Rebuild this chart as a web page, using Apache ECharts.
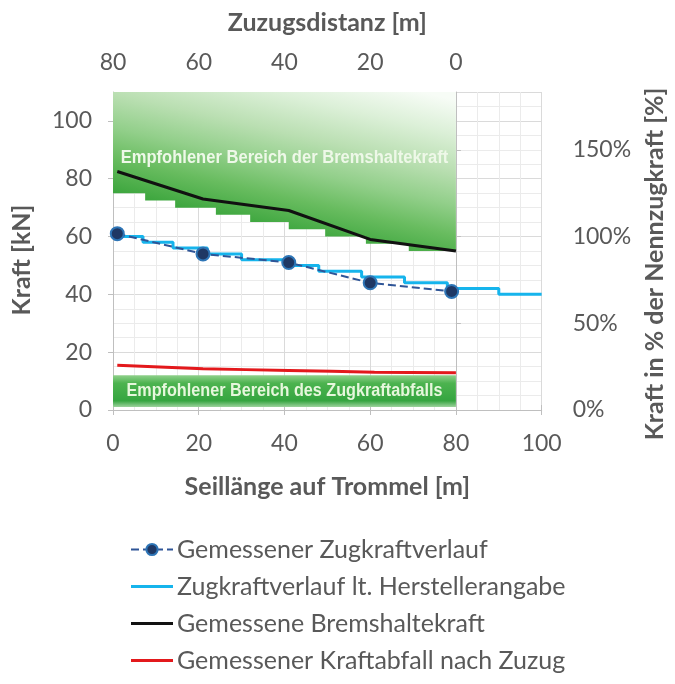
<!DOCTYPE html>
<html><head><meta charset="utf-8">
<script src="https://cdn.jsdelivr.net/npm/echarts@6/dist/echarts.min.js"></script>
<style>html,body{margin:0;padding:0;background:#fff}#c{width:675px;height:684px}</style>
</head><body><div id="c"></div>
<script>
// ---- data ----
const measuredX = [1, 21, 41, 60, 79];
const measuredForce = [61, 54, 51, 44, 41];
const makerX = [0, 7, 14, 22, 30, 40, 48, 58, 68, 78, 90, 100];
const makerForce = [60, 58, 56, 54, 52, 50, 48, 46, 44, 42, 40, 40];
const brakeX = [1, 21, 41, 60, 80];
const brakeForce = [82.5, 73, 69, 59, 55];
const dropX = [1, 21, 41, 61, 80];
const dropForce = [15.5, 14.3, 13.7, 13.1, 12.9];
const brakeZoneX = [0, 7.5, 14.5, 24, 32, 41, 49.5, 59, 69, 80];
const brakeZoneLow = [75, 72.5, 70, 67.5, 65, 62.5, 60, 57.5, 55];
const brakeZoneTop = 110;
const dropZoneX = [0, 80];
const dropZoneRange = [1, 12];
const nominalForce = 60; // 100 %
const seriesNames = ['Gemessener Zugkraftverlauf', 'Zugkraftverlauf lt. Herstellerangabe', 'Gemessene Bremshaltekraft', 'Gemessener Kraftabfall nach Zuzug'];
const zoneTexts = ['Empfohlener Bereich der Bremshaltekraft', 'Empfohlener Bereich des Zugkraftabfalls'];

const FONT = "Lato, 'Open Sans', sans-serif";
const ZFONT = "'Liberation Sans', Arial, sans-serif";
const GRAY = '#595959';
const COLORS = { measured: '#2F5597', maker: '#16b4ec', brake: '#111111', drop: '#e3191c' };

const pairs = (xs, ys) => xs.map((x, i) => [x, ys[i]]);

function renderBrakeZone(params, api) {
  const pts = [];
  pts.push(api.coord([brakeZoneX[0], brakeZoneTop]));
  pts.push(api.coord([brakeZoneX[brakeZoneX.length - 1], brakeZoneTop]));
  for (let i = brakeZoneLow.length - 1; i >= 0; i--) {
    pts.push(api.coord([brakeZoneX[i + 1], brakeZoneLow[i]]));
    pts.push(api.coord([brakeZoneX[i], brakeZoneLow[i]]));
  }
  const g0 = api.coord([1, 75]);
  const g1 = api.coord([9.6, 131]);
  const c = api.coord([(brakeZoneX[0] + brakeZoneX[brakeZoneX.length - 1]) / 2, 87.2]);
  return {
    type: 'group',
    children: [
      { type: 'polygon', shape: { points: pts },
        style: { fill: new echarts.graphic.LinearGradient(g0[0], g0[1], g1[0], g1[1], [
          { offset: 0, color: '#3da63e' },
          { offset: 0.2, color: '#68bc5f' },
          { offset: 0.38, color: '#92cf8a' },
          { offset: 0.58, color: '#badfb2' },
          { offset: 0.8, color: '#dcf0d8' },
          { offset: 1, color: '#f7fcf6' }], true) } },
      { type: 'text', x: c[0], y: c[1], scaleX: 0.92,
        style: { text: zoneTexts[0], fill: '#eef8e8', font: 'bold 18px ' + ZFONT,
          align: 'center', verticalAlign: 'middle' } }
    ]
  };
}

function renderDropZone(params, api) {
  const p0 = api.coord([dropZoneX[0], dropZoneRange[1]]);
  const p1 = api.coord([dropZoneX[1], dropZoneRange[0]]);
  const c = api.coord([(dropZoneX[0] + dropZoneX[1]) / 2, (dropZoneRange[0] + dropZoneRange[1]) / 2]);
  return {
    type: 'group',
    children: [
      { type: 'rect', shape: { x: p0[0], y: p0[1], width: p1[0] - p0[0], height: p1[1] - p0[1] },
        style: { fill: new echarts.graphic.LinearGradient(0, 0, 0, 1, [
          { offset: 0, color: '#8fd08a' },
          { offset: 0.25, color: '#4cb34f' },
          { offset: 0.8, color: '#35a540' },
          { offset: 1, color: '#9fd39f' }]) } },
      { type: 'text', x: c[0], y: c[1], scaleX: 0.9,
        style: { text: zoneTexts[1], fill: '#e6f7dc', font: 'bold 18px ' + ZFONT,
          align: 'center', verticalAlign: 'middle' } }
    ]
  };
}

const chart = echarts.init(document.getElementById('c'), null, { renderer: 'canvas' });
const axisLabel = { fontSize: 23, color: GRAY, fontFamily: FONT };
const nameStyle = { fontSize: 25, fontWeight: 'bold', color: GRAY, fontFamily: FONT };
const axisLine = { show: true, lineStyle: { color: '#bfbfbf', width: 1 } };
const axisTick = { show: true, length: 5, lineStyle: { color: '#bfbfbf' } };
const lineIcon = 'path://M0,0H40V3H0Z';

chart.setOption({
  backgroundColor: '#ffffff',
  animation: false,
  grid: { left: 113, right: 125, top: 92, bottom: 274, containLabel: false },
  legend: {
    orient: 'vertical', left: 125, top: 532, itemGap: 12, itemWidth: 42, itemHeight: 14,
    data: [
      { name: seriesNames[0] },
      { name: seriesNames[1], icon: lineIcon, itemStyle: { color: COLORS.maker } },
      { name: seriesNames[2], icon: lineIcon, itemStyle: { color: COLORS.brake } },
      { name: seriesNames[3], icon: lineIcon, itemStyle: { color: COLORS.drop } }
    ],
    textStyle: { fontSize: 25, color: GRAY, fontFamily: FONT, padding: [0, 0, 0, -1] }
  },
  xAxis: [
    { type: 'value', position: 'bottom', min: 0, max: 100, interval: 20,
      axisLine, axisTick, axisLabel: Object.assign({ margin: 22 }, axisLabel),
      splitLine: { show: true, lineStyle: { color: '#dadada' } },
      minorTick: { show: false, splitNumber: 4 },
      minorSplitLine: { show: true, lineStyle: { color: '#ebebeb' } },
      name: 'Seillänge auf Trommel [m]', nameLocation: 'middle', nameGap: 64, nameTextStyle: nameStyle },
    { type: 'value', position: 'top', min: -20, max: 80, interval: 20, inverse: true,
      axisLine, axisTick: { show: true, length: 5, lineStyle: { color: '#bfbfbf' } },
      axisLabel: Object.assign({ margin: 18, formatter: v => (v < 0 ? '' : String(v)) }, axisLabel),
      splitLine: { show: false },
      name: 'Zuzugsdistanz [m]', nameLocation: 'middle', nameGap: 57, nameTextStyle: nameStyle }
  ],
  yAxis: [
    { type: 'value', position: 'left', min: 0, max: 110, interval: 20,
      axisLine, axisTick, axisLabel: Object.assign({ margin: 21, showMaxLabel: false }, axisLabel),
      splitLine: { show: true, lineStyle: { color: '#dadada' } },
      minorTick: { show: false, splitNumber: 4 },
      minorSplitLine: { show: true, lineStyle: { color: '#ebebeb' } },
      name: 'Kraft [kN]', nameLocation: 'middle', nameGap: 79, nameRotate: 90,
      nameTextStyle: Object.assign({ padding: [0, 18, 0, 0] }, nameStyle) },
    { type: 'value', position: 'right', min: 0, max: 110 / nominalForce * 100, interval: 50,
      axisLine, axisTick, axisLabel: Object.assign({ margin: 31, showMaxLabel: false, formatter: v => v + '%' }, axisLabel),
      splitLine: { show: false },
      name: 'Kraft in % der Nennzugkraft [%]', nameLocation: 'middle', nameGap: 100, nameRotate: 90,
      nameTextStyle: Object.assign({ padding: [0, 26, 0, 0] }, nameStyle) }
  ],
  series: [
    { type: 'custom', name: 'zone1', xAxisIndex: 0, yAxisIndex: 0, z: 1, silent: true,
      renderItem: renderBrakeZone, data: [[brakeZoneX[0], brakeZoneTop]] },
    { type: 'custom', name: 'zone2', xAxisIndex: 0, yAxisIndex: 0, z: 1, silent: true,
      renderItem: renderDropZone, data: [[dropZoneX[0], dropZoneRange[0]]] },
    { type: 'line', name: seriesNames[1], xAxisIndex: 0, yAxisIndex: 0, z: 3,
      data: pairs(makerX, makerForce), step: 'end', symbol: 'none',
      lineStyle: { color: COLORS.maker, width: 3 }, itemStyle: { color: COLORS.maker } },
    { type: 'line', name: seriesNames[0], xAxisIndex: 0, yAxisIndex: 0, z: 4,
      data: pairs(measuredX, measuredForce), symbol: 'circle', symbolSize: 13,
      lineStyle: { color: COLORS.measured, width: 2, type: 'dashed' },
      itemStyle: { color: '#1F3864', borderColor: '#2E75B6', borderWidth: 2 } },
    { type: 'line', name: seriesNames[2], xAxisIndex: 0, yAxisIndex: 0, z: 3,
      data: pairs(brakeX, brakeForce), symbol: 'none',
      lineStyle: { color: COLORS.brake, width: 3 }, itemStyle: { color: COLORS.brake } },
    { type: 'line', name: seriesNames[3], xAxisIndex: 0, yAxisIndex: 0, z: 3,
      data: pairs(dropX, dropForce), symbol: 'none', smooth: 0.3,
      lineStyle: { color: COLORS.drop, width: 3 }, itemStyle: { color: COLORS.drop } }
  ]
});
</script>
</body></html>
